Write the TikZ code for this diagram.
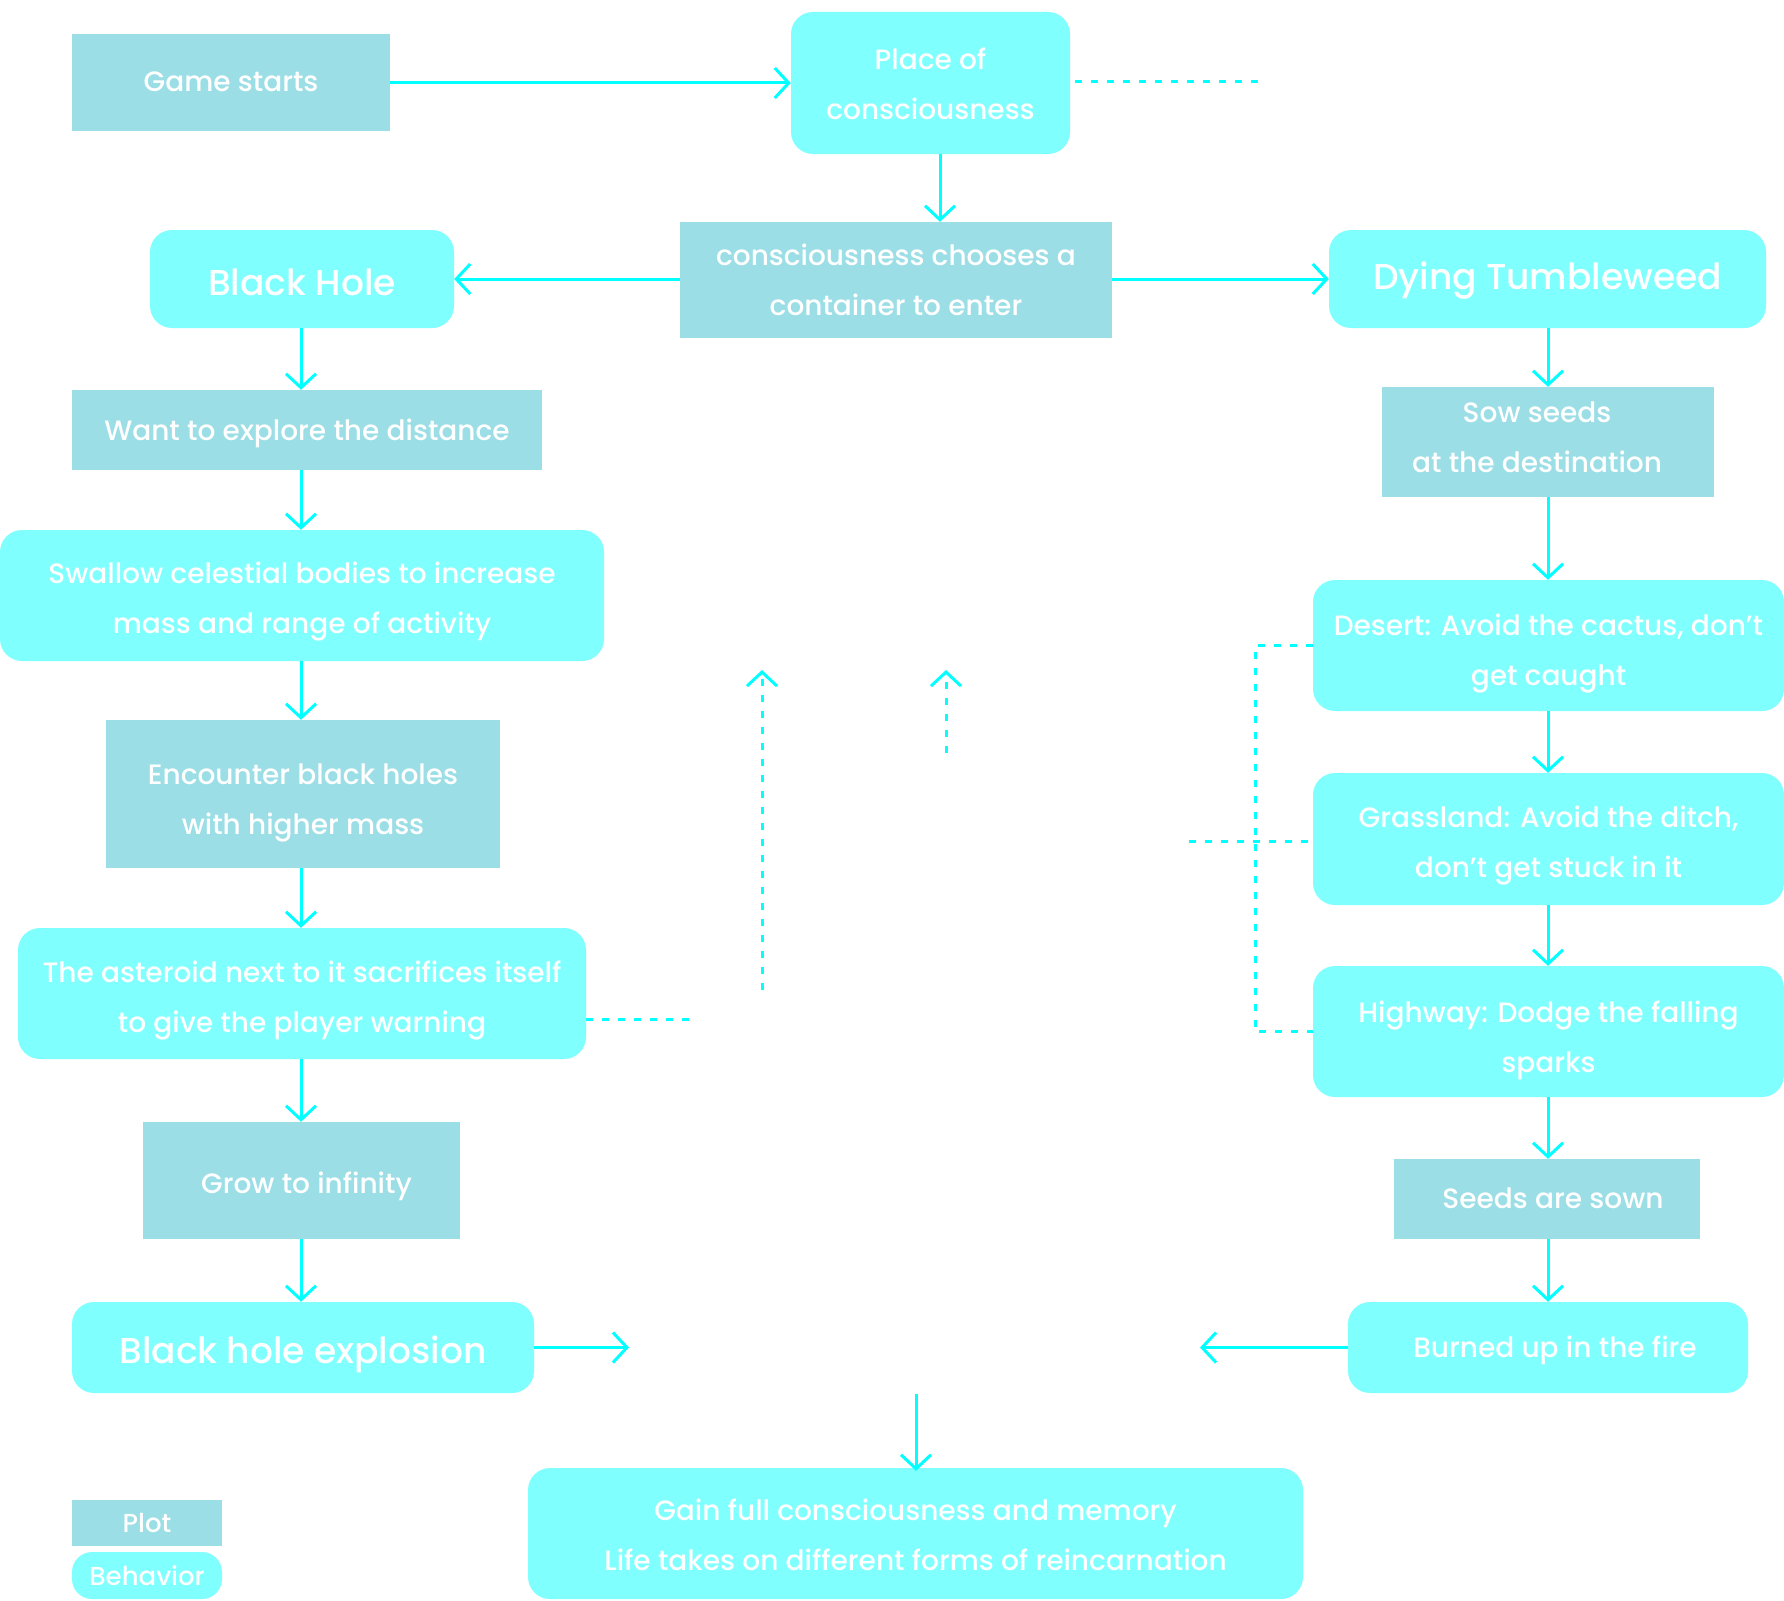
\documentclass[tikz,border=0pt]{standalone}
\usepackage{fontspec}
\setmainfont{Poppins Medium}
\usetikzlibrary{arrows.meta}
\definecolor{plotc}{HTML}{9BDEE6}
\definecolor{behc}{HTML}{80FFFF}
\definecolor{arrc}{HTML}{00FFFF}
\newcommand{\apos}{{\char"0027}}
\tikzset{
  base/.style={rectangle, inner sep=0pt},
  plot/.style={base, fill=plotc},
  beh/.style={base, fill=behc, rounded corners=22pt},
  tl/.style={text=white, align=center, inner sep=0pt, font=\fontsize{28}{50}\selectfont},
  txt/.style 2 args={label={[tl, yshift=-#1pt]center:{#2}}},
  bigtxt/.style 2 args={label={[tl, font=\fontsize{36}{50}\selectfont, yshift=-#1pt]center:{#2}}},
  ghost/.style={text=white, align=center, inner sep=0pt, font=\fontsize{27}{47}\selectfont},
  flow/.style={draw=arrc, line width=3pt, -{Straight Barb[length=14pt, width=30pt, line width=3pt]}},
  dots/.style={draw=arrc, line width=3pt, dash pattern=on 7pt off 9pt},
  dotflow/.style={dots, -{Straight Barb[length=14pt, width=30pt, line width=3pt]}}
}
\begin{document}
\begin{tikzpicture}[x=1pt, y=-1pt]
\useasboundingbox[fill=white] (0,0) rectangle (1784,1600);

% invisible (white) texts
\node[ghost] (gather) at (1517,85) {Gathering place and transfer\\station of consciousness};
\node[ghost] (collect) at (915,1325) {Collect fragments of\\consciousness and memory};

% plot boxes
\node[plot, minimum width=318pt, minimum height=97pt, txt={-1}{Game starts}] (start) at (231,82.5) {};
\node[plot, minimum width=432pt, minimum height=116pt, txt={0}{consciousness chooses a\\container to enter}] (choose) at (896,280) {};
\node[plot, minimum width=470pt, minimum height=80pt, txt={3}{Want to explore the distance}] (want) at (307,430) {};
\node[plot, minimum width=394pt, minimum height=148pt, txt={9}{Encounter black holes\\with higher mass}] (encounter) at (303,794) {};
\node[plot, minimum width=317pt, minimum height=117pt, txt={6}{\hspace*{10pt}Grow to infinity}] (grow) at (301.5,1180.5) {};
\node[plot, minimum width=332pt, minimum height=110pt, txt={-5}{Sow seeds\hspace*{22pt}\\at the destination\hspace*{22pt}}] (sow) at (1548,442) {};
\node[plot, minimum width=306pt, minimum height=80pt, txt={-1}{\hspace*{12pt}Seeds are sown}] (sown) at (1547,1199) {};

% behavior boxes
\node[beh, minimum width=279pt, minimum height=142pt, txt={1}{Place of\\consciousness}] (place) at (930.5,83) {};
\node[beh, minimum width=304pt, minimum height=98pt, bigtxt={3}{Black Hole}] (bh) at (302,279) {};
\node[beh, minimum width=437pt, minimum height=98pt, bigtxt={2}{Dying Tumbleweed}] (dt) at (1547.5,279) {};
\node[beh, minimum width=604pt, minimum height=131pt, txt={6}{Swallow celestial bodies to increase\\mass and range of activity}] (swallow) at (302,595.5) {};
\node[beh, minimum width=568pt, minimum height=131pt, txt={7}{The asteroid next to it sacrifices itself\\to give the player warning}] (asteroid) at (302,993.5) {};
\node[beh, minimum width=462pt, minimum height=91pt, bigtxt={7}{Black hole explosion}] (bhe) at (303,1347.5) {};
\node[beh, minimum width=775pt, minimum height=131pt, txt={1}{Gain full consciousness and memory\\Life takes on different forms of reincarnation}] (gain) at (915.5,1533.5) {};
\node[beh, minimum width=471pt, minimum height=131pt, txt={8}{Desert: Avoid the cactus, don\apos t\\get caught}] (desert) at (1548.5,645.5) {};
\node[beh, minimum width=471pt, minimum height=132pt, txt={7}{Grassland: Avoid the ditch,\\don\apos t get stuck in it}] (grass) at (1548.5,839) {};
\node[beh, minimum width=471pt, minimum height=131pt, txt={9}{Highway: Dodge the falling\\sparks}] (highway) at (1548.5,1031.5) {};
\node[beh, minimum width=400pt, minimum height=91pt, txt={3}{\hspace*{14pt}Burned up in the fire}] (burned) at (1548,1347.5) {};

% legend
\node[plot, minimum width=150pt, minimum height=46pt, label={[tl, font=\fontsize{26}{30}\selectfont]center:Plot}] (lplot) at (147,1523) {};
\node[beh, rounded corners=20pt, minimum width=150pt, minimum height=47pt, label={[tl, font=\fontsize{26}{30}\selectfont]center:Behavior}] (lbeh) at (147,1575.5) {};

% helper coordinates
\coordinate (ax) at (940,0);
\coordinate (lx) at (301,0);
\coordinate (rx) at (1548,0);
\coordinate (bx) at (1255,0);
\coordinate (pd) at (1263,82);
\coordinate (ad) at (691,1019);
\coordinate (u1b) at (762,990);
\coordinate (u1t) at (762,670);
\coordinate (u2b) at (946,753);
\coordinate (u2t) at (946,670);
\coordinate (gd) at (1189,841);
\coordinate (cl) at (629,1347.5);
\coordinate (cr) at (1200,1347.5);
\coordinate (cb) at (916,1394);

% solid arrows
\draw[flow] (start.east |- place.west) -- (place.west);
\draw[flow] (place.south -| ax) -- (choose.north -| ax);
\draw[flow] (choose.west |- bh.east) -- (bh.east);
\draw[flow] (choose.east |- dt.west) -- (dt.west);
\draw[flow] (bh.south -| lx) -- (want.north -| lx);
\draw[flow] (want.south -| lx) -- (swallow.north -| lx);
\draw[flow] (swallow.south -| lx) -- (encounter.north -| lx);
\draw[flow] (encounter.south -| lx) -- (asteroid.north -| lx);
\draw[flow] (asteroid.south -| lx) -- (grow.north -| lx);
\draw[flow] (grow.south -| lx) -- (bhe.north -| lx);
\draw[flow] (bhe.east) -- (cl);
\draw[flow] (burned.west) -- (cr);
\draw[flow] (cb) -- ([yshift=-3pt]gain.north -| cb);
\draw[flow] (dt.south -| rx) -- (sow.north -| rx);
\draw[flow] (sow.south -| rx) -- (desert.north -| rx);
\draw[flow] (desert.south -| rx) -- (grass.north -| rx);
\draw[flow] (grass.south -| rx) -- (highway.north -| rx);
\draw[flow] (highway.south -| rx) -- (sown.north -| rx);
\draw[flow] (sown.south -| rx) -- (burned.north -| rx);

% dotted connectors
\draw[dots] ([xshift=5pt]place.east |- pd) -- (pd);
\draw[dots] (asteroid.east |- ad) -- (ad);
\draw[dotflow] (u1b) -- (u1t);
\draw[dotflow] (u2b) -- (u2t);
\draw[dots] (gd) -- (grass.west |- gd);
\draw[dots] (desert.west) -- (desert.west -| bx) -- (highway.west -| bx) -- (highway.west);
\end{tikzpicture}
\end{document}
